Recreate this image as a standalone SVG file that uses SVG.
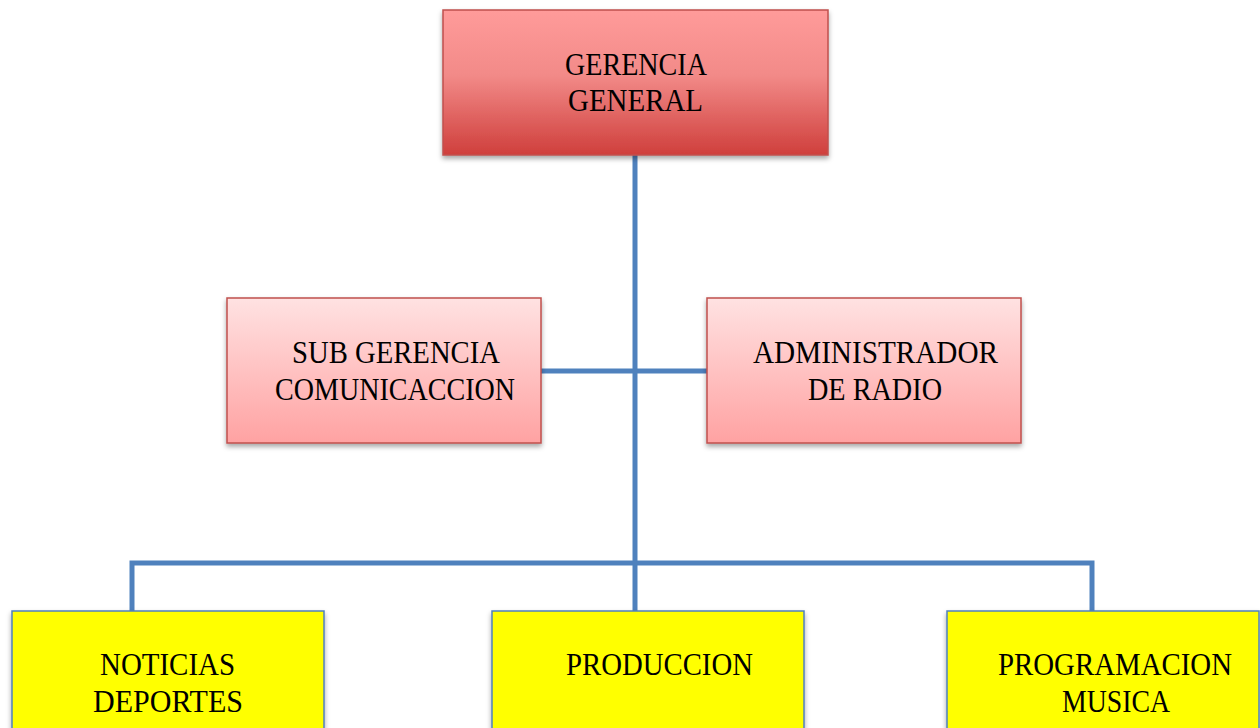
<svg xmlns="http://www.w3.org/2000/svg" width="1260" height="728" viewBox="0 0 1260 728">
<defs>
<linearGradient id="gTop" x1="0" y1="0" x2="0" y2="1">
<stop offset="0" stop-color="#ff9b9a"/>
<stop offset="0.45" stop-color="#f28a88"/>
<stop offset="1" stop-color="#cf3f3c"/>
</linearGradient>
<linearGradient id="gMid" x1="0" y1="0" x2="0" y2="1">
<stop offset="0" stop-color="#ffe2e2"/>
<stop offset="1" stop-color="#ffa2a2"/>
</linearGradient>
<filter id="sh" x="-5%" y="-5%" width="115%" height="120%">
<feDropShadow dx="0" dy="3" stdDeviation="2.5" flood-color="#000" flood-opacity="0.35"/>
</filter>
</defs>
<style>
.t{font-family:"Liberation Serif","DejaVu Serif",serif;font-size:32px;fill:#000;}
.red{stroke:#c0504d;stroke-width:1.5;}
.yel{fill:#ffff00;stroke:#4f81bd;stroke-width:1.5;}
.ln{stroke:#4f81bd;stroke-width:5;fill:none;}
</style>
<g id="connectors">
<line class="ln" x1="635" y1="155" x2="635" y2="611"/>
<line class="ln" x1="541" y1="371" x2="707" y2="371"/>
<polyline class="ln" points="132,611 132,563 1092,563 1092,611" stroke-linejoin="miter"/>
</g>
<g id="gerencia-general">
<rect class="red" x="443" y="10" width="385" height="145" fill="url(#gTop)" filter="url(#sh)"/>
<text class="t" x="565" y="75" textLength="142" lengthAdjust="spacingAndGlyphs">GERENCIA</text>
<text class="t" x="568" y="111" textLength="135" lengthAdjust="spacingAndGlyphs">GENERAL</text>
</g>
<g id="sub-gerencia">
<rect class="red" x="227" y="298" width="314" height="145" fill="url(#gMid)" filter="url(#sh)"/>
<text class="t" x="292" y="363" textLength="208" lengthAdjust="spacingAndGlyphs">SUB GERENCIA</text>
<text class="t" x="275" y="400" textLength="240" lengthAdjust="spacingAndGlyphs">COMUNICACCION</text>
</g>
<g id="administrador">
<rect class="red" x="707" y="298" width="314" height="145" fill="url(#gMid)" filter="url(#sh)"/>
<text class="t" x="753" y="363" textLength="245" lengthAdjust="spacingAndGlyphs">ADMINISTRADOR</text>
<text class="t" x="808" y="400" textLength="134" lengthAdjust="spacingAndGlyphs">DE RADIO</text>
</g>
<g id="noticias">
<rect class="yel" x="12" y="611" width="312" height="130" filter="url(#sh)"/>
<text class="t" x="100" y="675" textLength="135" lengthAdjust="spacingAndGlyphs">NOTICIAS</text>
<text class="t" x="93" y="712" textLength="150" lengthAdjust="spacingAndGlyphs">DEPORTES</text>
</g>
<g id="produccion">
<rect class="yel" x="492" y="611" width="312" height="130" filter="url(#sh)"/>
<text class="t" x="566" y="675" textLength="187" lengthAdjust="spacingAndGlyphs">PRODUCCION</text>
</g>
<g id="programacion">
<rect class="yel" x="947" y="611" width="312" height="130" filter="url(#sh)"/>
<text class="t" x="998" y="675" textLength="234" lengthAdjust="spacingAndGlyphs">PROGRAMACION</text>
<text class="t" x="1062" y="712" textLength="108" lengthAdjust="spacingAndGlyphs">MUSICA</text>
</g>
</svg>
